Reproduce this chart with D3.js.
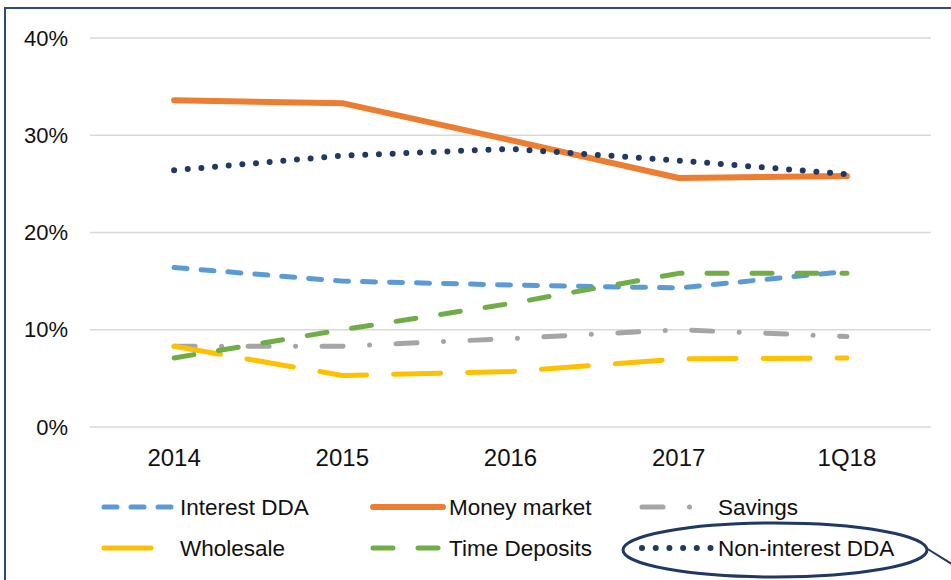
<!DOCTYPE html>
<html>
<head>
<meta charset="utf-8">
<script src="https://cdn.jsdelivr.net/npm/d3@7"></script>
<style>
  body { margin: 0; background: #fff; }
  text { font-family: "Liberation Sans", Arial, sans-serif; fill: #111; }
</style>
</head>
<body>
<div id="chart"></div>
<script>
var width = 951, height = 580;

// data
var years = ['2014', '2015', '2016', '2017', '1Q18'];
var interestDDA    = [0.164, 0.150, 0.146, 0.143, 0.160];
var moneyMarket    = [0.336, 0.333, 0.295, 0.256, 0.258];
var savings        = [0.083, 0.083, 0.091, 0.100, 0.093];
var wholesale      = [0.083, 0.053, 0.057, 0.070, 0.071];
var timeDeposits   = [0.071, 0.100, 0.127, 0.158, 0.158];
var nonInterestDDA = [0.264, 0.279, 0.286, 0.274, 0.260];
var yTicks = [0, 0.1, 0.2, 0.3, 0.4];

var series = [
  {name: 'Interest DDA', values: interestDDA, color: '#5B9BD5', w: 5, dash: '13 14'},
  {name: 'Money market', values: moneyMarket, color: '#ED7D31', w: 6, dash: null},
  {name: 'Savings', values: savings, color: '#A5A5A5', w: 5, dash: '21 26.5 0 26.5'},
  {name: 'Wholesale', values: wholesale, color: '#FFC000', w: 5, dash: '47 27'},
  {name: 'Time Deposits', values: timeDeposits, color: '#70AD47', w: 5, dash: '20 25'},
  {name: 'Non-interest DDA', values: nonInterestDDA, color: '#1F3864', w: 6, dash: '0 13.7'}
];

var svg = d3.select('#chart').append('svg')
  .attr('width', width)
  .attr('height', height);

// outer frame (right and bottom edges sit off the picture)
svg.append('rect')
  .attr('x', 5).attr('y', 8)
  .attr('width', 960).attr('height', 600)
  .attr('fill', 'none')
  .attr('stroke', '#2F4B7C')
  .attr('stroke-width', 2);

var x = d3.scalePoint()
  .domain(years)
  .range([90, 931])
  .padding(0.5);

var y = d3.scaleLinear()
  .domain([0, 0.4])
  .range([427, 38]);

// gridlines
svg.append('g')
  .selectAll('line')
  .data(yTicks)
  .enter()
  .append('line')
  .attr('x1', 90).attr('x2', 931)
  .attr('y1', d => y(d)).attr('y2', d => y(d))
  .attr('stroke', '#D9D9D9')
  .attr('stroke-width', 1.5);

// y labels
svg.append('g')
  .selectAll('text')
  .data(yTicks)
  .enter()
  .append('text')
  .attr('x', 68)
  .attr('y', d => y(d))
  .attr('dy', '0.35em')
  .attr('text-anchor', 'end')
  .style('font-size', '22px')
  .text(d3.format('.0%'));

// x labels
svg.append('g')
  .selectAll('text')
  .data(years)
  .enter()
  .append('text')
  .attr('x', d => x(d))
  .attr('y', 458)
  .attr('dy', '0.35em')
  .attr('text-anchor', 'middle')
  .style('font-size', '24px')
  .text(d => d);

var line = d3.line()
  .x((d, i) => x(years[i]))
  .y(d => y(d));

svg.append('g')
  .selectAll('path')
  .data(series)
  .enter()
  .append('path')
  .attr('d', d => line(d.values))
  .attr('fill', 'none')
  .attr('stroke', d => d.color)
  .attr('stroke-width', d => d.w)
  .attr('stroke-linecap', 'round')
  .attr('stroke-linejoin', 'round')
  .attr('stroke-dasharray', d => d.dash);

// legend, 3 columns x 2 rows
var legend = svg.append('g')
  .selectAll('g')
  .data(series)
  .enter()
  .append('g')
  .attr('transform', (d, i) => 'translate(' + (104 + (i % 3) * 269) + ',' + (507 + Math.floor(i / 3) * 41) + ')');

legend.append('line')
  .attr('x1', 0).attr('x2', 70)
  .attr('stroke', d => d.color)
  .attr('stroke-width', d => d.w)
  .attr('stroke-linecap', 'round')
  .attr('stroke-dasharray', d => d.dash);

legend.append('text')
  .attr('x', 76)
  .attr('dy', '0.35em')
  .style('font-size', '22.5px')
  .text(d => d.name);

// callout ellipse round the Non-interest DDA entry
svg.append('ellipse')
  .attr('cx', 775).attr('cy', 550)
  .attr('rx', 152).attr('ry', 27)
  .attr('fill', 'none')
  .attr('stroke', '#1F3864')
  .attr('stroke-width', 3);

svg.append('line')
  .attr('x1', 926).attr('y1', 548)
  .attr('x2', 955).attr('y2', 566)
  .attr('stroke', '#1F3864')
  .attr('stroke-width', 2);
</script>
</body>
</html>
